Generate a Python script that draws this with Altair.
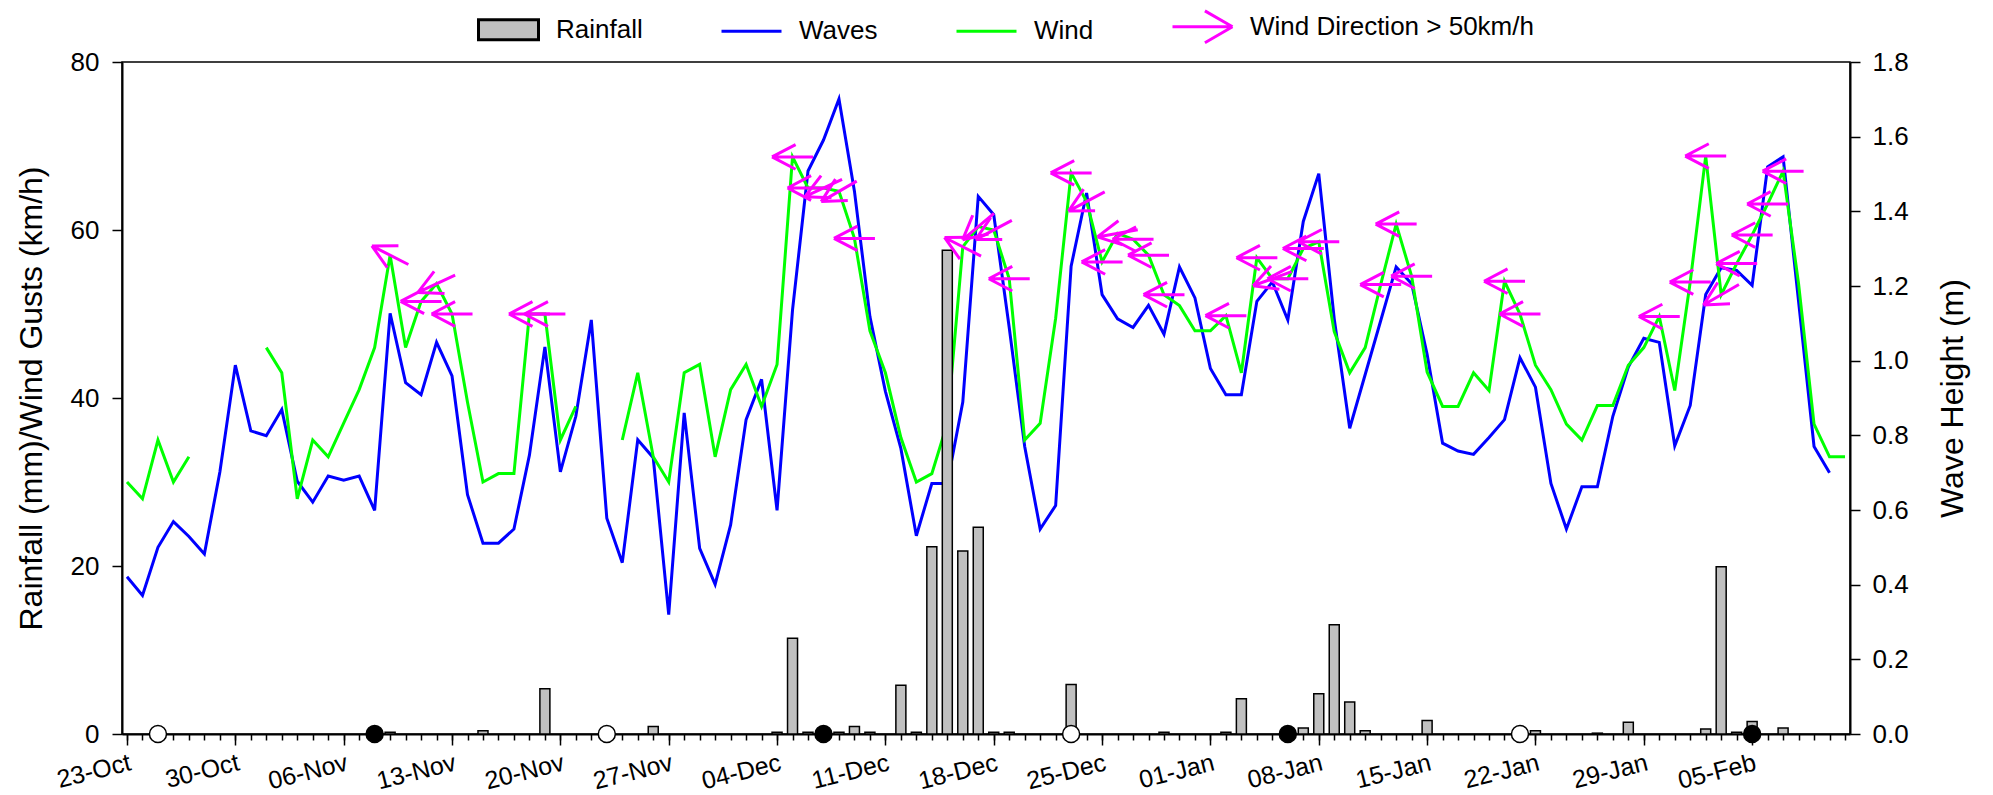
import altair as alt
import pandas as pd

FONT = "Liberation Sans"

start_date = "2018-10-23"
end_date = "2019-02-11"

# Daily wind gusts (km/h), 23-Oct .. 11-Feb; None = no record
wind_kmh = [
    30, 28, 35, 30, 33, None, None, None, None, 46,
    43, 28, 35, 33, 37, 41, 46, 57, 46, 51.5,
    53.6, 50, 39.5, 30, 31, 31, 50, 50, 35, 39,
    None, None, 35, 43, 33, 30, 43, 44, 33, 41,
    44, 39, 44, 68.7, 65, 65, 64.6, 59, 48, 43,
    35.3, 30, 31, 37, 58, 60.4, 60, 54.2, 35, 37,
    49.5, 66.8, 63.4, 56.2, 59.6, 58.9, 57, 52.3, 51, 48,
    48, 49.8, 43, 56.7, 54.2, 54.2, 57.8, 58.6, 47.9, 43,
    46, 53.5, 60.7, 54.5, 43.1, 39, 39, 43, 40.9, 53.9,
    50, 43.9, 41, 36.9, 35, 39.1, 39.1, 43.9, 46, 49.7,
    40.9, 53.8, 68.8, 52.3, 56, 59.4, 63.1, 67, 53.6, 36.9,
    33, 33,
]

# Daily wave height (m), 23-Oct .. 10-Feb
wave_m = [
    0.421, 0.371, 0.500, 0.569, 0.529, 0.482, 0.702, 0.988, 0.812, 0.799,
    0.869, 0.677, 0.621, 0.691, 0.680, 0.691, 0.599, 1.127, 0.941, 0.909,
    1.049, 0.959, 0.641, 0.511, 0.511, 0.549, 0.747, 1.037, 0.702, 0.851,
    1.109, 0.578, 0.459, 0.788, 0.740, 0.320, 0.860, 0.497, 0.401, 0.560,
    0.842, 0.950, 0.599, 1.136, 1.508, 1.591, 1.701, 1.454, 1.118, 0.918,
    0.765, 0.531, 0.671, 0.671, 0.889, 1.440, 1.391, 1.089, 0.770, 0.549,
    0.612, 1.253, 1.449, 1.177, 1.112, 1.089, 1.148, 1.071, 1.251, 1.168,
    0.979, 0.909, 0.909, 1.159, 1.211, 1.109, 1.373, 1.501, 1.112, 0.819,
    0.963, 1.107, 1.251, 1.206, 1.017, 0.779, 0.758, 0.749, 0.794, 0.842,
    1.008, 0.929, 0.671, 0.549, 0.662, 0.662, 0.851, 0.983, 1.060, 1.049,
    0.772, 0.880, 1.177, 1.249, 1.242, 1.202, 1.519, 1.546, 1.159, 0.770,
    0.700,
]

rain_dates = [
    "2018-11-09", "2018-11-15", "2018-11-19", "2018-11-26", "2018-12-04",
    "2018-12-05", "2018-12-06", "2018-12-08", "2018-12-09", "2018-12-10",
    "2018-12-12", "2018-12-13", "2018-12-14", "2018-12-15", "2018-12-16",
    "2018-12-17", "2018-12-18", "2018-12-19", "2018-12-23", "2018-12-29",
    "2019-01-02", "2019-01-03", "2019-01-07", "2019-01-08", "2019-01-09",
    "2019-01-10", "2019-01-11", "2019-01-15", "2019-01-22", "2019-01-26",
    "2019-01-28", "2019-02-02", "2019-02-03", "2019-02-04", "2019-02-05",
    "2019-02-07",
]
rain_mm = [
    0.2, 0.4, 5.4, 0.9, 0.2,
    11.4, 0.2, 0.2, 0.9, 0.2,
    5.8, 0.2, 22.3, 57.6, 21.8,
    24.6, 0.2, 0.2, 5.9, 0.2,
    0.2, 4.2, 0.7, 4.8, 13.0,
    3.8, 0.4, 1.6, 0.4, 0.1,
    1.4, 0.6, 19.9, 0.2, 1.5,
    0.7,
]

full_moon_dates = ["2018-10-25", "2018-11-23", "2018-12-23", "2019-01-21"]
new_moon_dates = ["2018-11-08", "2018-12-07", "2019-01-06", "2019-02-05"]

arrow_dates = [
    "2018-11-09", "2018-11-11", "2018-11-12", "2018-11-13", "2018-11-18", "2018-11-19",
    "2018-12-05", "2018-12-06", "2018-12-07", "2018-12-08", "2018-12-09",
    "2018-12-16", "2018-12-17", "2018-12-18", "2018-12-19",
    "2018-12-23", "2018-12-24", "2018-12-25", "2018-12-26", "2018-12-27", "2018-12-28", "2018-12-29",
    "2019-01-02", "2019-01-04", "2019-01-05", "2019-01-06", "2019-01-07", "2019-01-08",
    "2019-01-12", "2019-01-13", "2019-01-14", "2019-01-20", "2019-01-21",
    "2019-01-30", "2019-02-01", "2019-02-02", "2019-02-03", "2019-02-04", "2019-02-05",
    "2019-02-06", "2019-02-07",
]
# direction the arrow points, degrees clockwise from "east" (180 = pointing left)
arrow_angles = [
    207, 180, 155, 180, 180, 180,
    180, 180, 155, 150, 180,
    207, 140, 152, 180,
    180, 152, 180, 170, 180, 180, 180,
    180, 180, 160, 180, 180, 180,
    180, 180, 180, 180, 180,
    180, 180, 180, 150, 180, 180,
    180, 180,
]

series_names = ["Rainfall", "Waves", "Wind", "Wind Direction > 50km/h"]
series_colors = ["black", "#0000FF", "#00FF00", "#FF00FF"]

# ---------------------------------------------------------------- tables
dates = pd.date_range(start_date, periods=len(wind_kmh), freq="D")
date_str = list(dates.strftime("%Y-%m-%d"))
daily = pd.DataFrame({
    "date": date_str,
    "wind": wind_kmh,
    "waves": wave_m + [None] * (len(wind_kmh) - len(wave_m)),
})
daily["seg"] = daily["wind"].isna().cumsum()

wind_df = daily.dropna(subset=["wind"]).copy()
wind_df["series"] = "Wind"
waves_df = daily.dropna(subset=["waves"]).copy()
waves_df["series"] = "Waves"
rain_df = pd.DataFrame({"date": rain_dates, "rain": rain_mm, "series": "Rainfall"})
arrow_df = daily.set_index("date").loc[arrow_dates, ["wind"]].reset_index()
arrow_df["angle"] = arrow_angles
arrow_df["series"] = "Wind Direction > 50km/h"
moon_df = pd.DataFrame({
    "date": full_moon_dates + new_moon_dates,
    "phase": ["Full moon"] * len(full_moon_dates) + ["New moon"] * len(new_moon_dates),
    "level": 0,
})


def ms(s):
    return int(pd.Timestamp(s, tz="UTC").value // 10**6)


def dt(s):
    t = pd.Timestamp(s)
    return alt.DateTime(year=t.year, month=t.month, date=t.day, utc=True)


all_days = pd.date_range(start_date, end_date, freq="D").strftime("%Y-%m-%d")
week_days = pd.date_range(start_date, end_date, freq="7D").strftime("%Y-%m-%d")

x_scale = alt.Scale(type="utc", domain=[dt(start_date), dt(end_date)], nice=False)
major_x_axis = alt.Axis(
    orient="bottom", values=[ms(s) for s in week_days],
    labelExpr="utcFormat(datum.value, '%d-%b')",
    tickSize=11, labelAngle=-14, labelAlign="right", labelBaseline="top", labelPadding=5,
    labelFontSize=25, labelOverlap=False, labelFlush=False, labelBound=False,
    title=None, grid=False,
)
minor_x_axis = alt.Axis(
    orient="bottom", values=[ms(s) for s in all_days], tickSize=6,
    labels=False, domain=False, title=None, grid=False,
)
y_left = alt.Scale(domain=[0, 80], nice=False, zero=True)
y_right = alt.Scale(domain=[0, 1.8], nice=False, zero=True)
left_axis = alt.Axis(
    orient="left", values=[0, 20, 40, 60, 80], format="d", tickSize=10, labelPadding=13,
    title="Rainfall (mm)/Wind Gusts (km/h)", titleX=-81, titleY=336, titleAngle=270,
    titleAlign="center", titleBaseline="alphabetic", grid=False,
)
right_axis = alt.Axis(
    orient="right", values=[0.0, 0.2, 0.4, 0.6, 0.8, 1.0, 1.2, 1.4, 1.6, 1.8], format=".1f",
    tickSize=10, labelPadding=12,
    title="Wave Height (m)", titleX=112, titleY=336, titleAngle=270,
    titleAlign="center", titleBaseline="alphabetic", grid=False,
)

ARROW = "M-1,0H1M1,0L-0.15,-0.6M1,0L-0.15,0.6"
shape_expr = (
    "datum.value === 'Rainfall' ? 'M-1,-0.333H1V0.333H-1Z' : "
    "(datum.value === 'Wind Direction > 50km/h' ? 'M-1,0H1M1,0L0.08,-0.53M1,0L0.08,0.53' : 'M-1,0H1')"
)
fill_expr = "datum.value === 'Rainfall' ? '#c0c0c0' : 'transparent'"
legend = alt.Legend(
    title=None, orient="none", legendX=355, legendY=-67, direction="horizontal",
    columns=4, columnPadding=72, symbolSize=3600, symbolStrokeWidth=3,
    labelFont=FONT, labelFontSize=26, labelColor="black", labelOffset=16, labelLimit=0,
    symbolType=alt.ExprRef(shape_expr),
    symbolFillColor=alt.ExprRef(fill_expr),
)
stroke_scale = alt.Scale(domain=series_names, range=series_colors)

waves_line = alt.Chart(waves_df).mark_line(strokeWidth=3).encode(
    x=alt.X("date:T", scale=x_scale, axis=minor_x_axis),
    y=alt.Y("waves:Q", scale=y_right, axis=right_axis),
    stroke=alt.Stroke("series:N", scale=stroke_scale, legend=legend),
)
wind_line = alt.Chart(wind_df).mark_line(strokeWidth=3).encode(
    x=alt.X("date:T", scale=x_scale, axis=major_x_axis),
    y=alt.Y("wind:Q", scale=y_left, axis=left_axis),
    detail="seg:N",
    stroke=alt.Stroke("series:N", scale=stroke_scale, legend=legend),
)
bars = alt.Chart(rain_df).mark_bar(size=10, fill="#c0c0c0", strokeWidth=1.5).encode(
    x=alt.X("date:T", scale=x_scale, axis=None),
    y=alt.Y("rain:Q", scale=y_left, axis=None),
    stroke=alt.Stroke("series:N", scale=stroke_scale, legend=legend),
)
arrows = alt.Chart(arrow_df).mark_point(
    shape=ARROW, size=1681, filled=False, strokeWidth=3, opacity=1
).encode(
    x=alt.X("date:T", scale=x_scale, axis=None),
    y=alt.Y("wind:Q", scale=y_left, axis=None),
    angle=alt.Angle("angle:Q", scale=None),
    stroke=alt.Stroke("series:N", scale=stroke_scale, legend=legend),
)
moons = alt.Chart(moon_df).mark_point(
    shape="circle", size=290, filled=True, stroke="black", strokeWidth=1.5, opacity=1
).encode(
    x=alt.X("date:T", scale=x_scale, axis=None),
    y=alt.Y("level:Q", scale=y_left, axis=None),
    fill=alt.condition(alt.datum.phase == "New moon", alt.value("black"), alt.value("white")),
)

chart = (
    alt.layer(waves_line, wind_line, bars, arrows, moons)
    .resolve_scale(y="independent")
    .resolve_axis(x="independent", y="independent")
    .properties(
        width=1728, height=672,
        autosize=alt.AutoSizeParams(type="none"),
        padding={"left": 122, "top": 62, "right": 143, "bottom": 61},
        background="white",
    )
    .configure_view(stroke="black", strokeWidth=1.5)
    .configure_axis(
        labelFont=FONT, titleFont=FONT, labelFontSize=26, titleFontSize=32,
        titleFontWeight="normal", labelColor="black", titleColor="black",
        domainColor="black", tickColor="black", domainWidth=2, tickWidth=1.5,
    )
)

chart.save("out.html", embed_options={"renderer": "svg", "actions": False})
